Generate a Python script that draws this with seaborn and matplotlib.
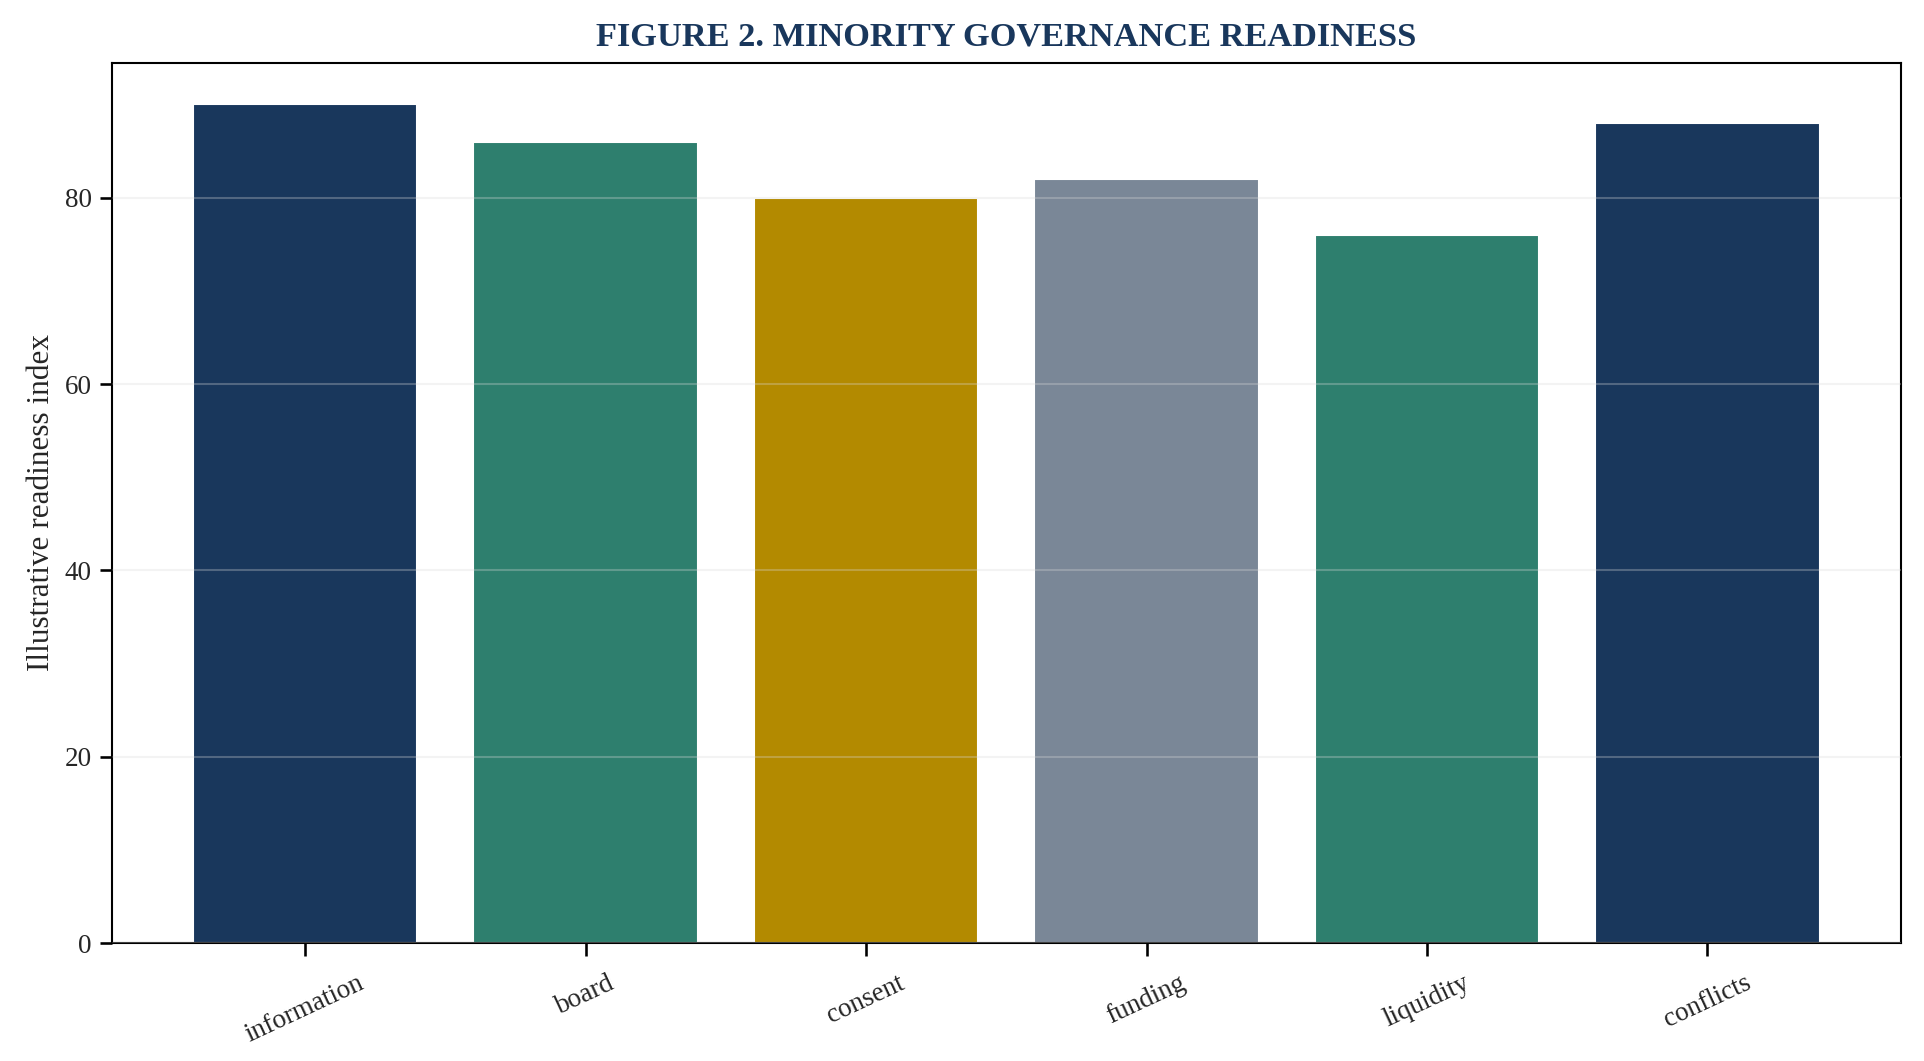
import matplotlib
matplotlib.use("Agg")
import matplotlib.pyplot as plt
import seaborn as sns
import pandas as pd

# chart data
categories = ["information", "board", "consent", "funding", "liquidity", "conflicts"]
readiness = [90, 86, 80, 82, 76, 88]
bar_colors = ["#19375c", "#2e7f6e", "#b38a00", "#7a8797", "#2e7f6e", "#19375c"]

df = pd.DataFrame({"area": categories, "score": readiness})

sns.set_theme(style="ticks")
plt.rcParams["font.family"] = ["Liberation Serif", "DejaVu Serif"]

fig, ax = plt.subplots(figsize=(12.827, 7.074), dpi=150)
sns.barplot(data=df, x="area", y="score", hue="area", palette=bar_colors,
            legend=False, saturation=1, width=0.8, ax=ax)

ax.set_ylim(0, 94.5)
ax.set_xlim(-0.69, 5.69)
ax.set_xlabel("")
ax.set_ylabel("Illustrative readiness index", fontsize=15)
ax.set_title("FIGURE 2. MINORITY GOVERNANCE READINESS", fontsize=16.5,
             fontweight="bold", color="#19375c", pad=8)

ax.set_axisbelow(False)
ax.yaxis.grid(True, color="#d9d9d9", alpha=0.3, linewidth=1)
for s in ax.spines.values():
    s.set_visible(True)
    s.set_color("black")
    s.set_linewidth(1)

ax.tick_params(axis="both", labelsize=13, length=6, color="black")
ax.tick_params(axis="x", pad=7)
plt.setp(ax.get_xticklabels(), rotation=25)

fig.subplots_adjust(left=0.058, right=0.988, top=0.941, bottom=0.111)
plt.savefig("out.png", dpi=150)
